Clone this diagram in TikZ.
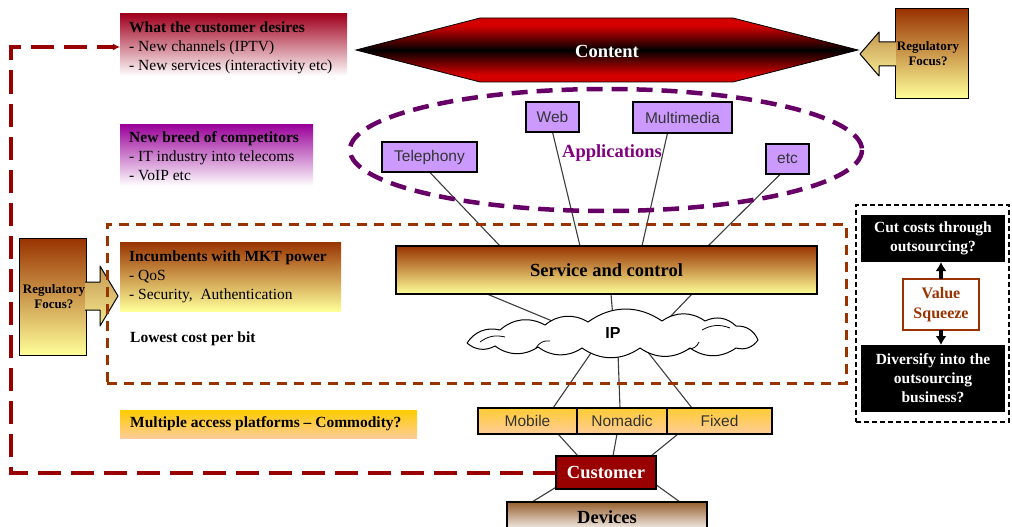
\documentclass[tikz,border=0pt]{standalone}
\usepackage{fontspec}
\setmainfont{Liberation Serif}
\setsansfont{Liberation Sans}
\usetikzlibrary{arrows.meta,calc}
\pgfdeclarelayer{background}
\pgfsetlayers{background,main}

\definecolor{deepred}{RGB}{160,0,30}
\definecolor{plum}{RGB}{153,0,153}
\definecolor{rust}{RGB}{153,51,0}
\definecolor{paleyellow}{RGB}{255,255,153}
\definecolor{signalred}{RGB}{212,0,0}
\definecolor{lavender}{RGB}{204,153,255}
\definecolor{maroon}{RGB}{153,0,0}
\definecolor{umber}{RGB}{150,95,45}
\definecolor{gold}{RGB}{255,204,0}
\definecolor{peach}{RGB}{255,204,153}
\definecolor{amber}{RGB}{255,204,51}
\definecolor{tanA}{RGB}{196,150,80}
\definecolor{tanB}{RGB}{245,235,145}
\definecolor{appviolet}{RGB}{102,0,102}
\definecolor{apptext}{RGB}{128,0,128}
\definecolor{wirecol}{RGB}{60,60,60}

% red-black-red band for the content layer
\pgfdeclareverticalshading{contentband}{100bp}{%
  color(0bp)=(signalred); color(25bp)=(signalred); color(31bp)=(signalred);
  color(50bp)=(black); color(69bp)=(signalred); color(75bp)=(signalred); color(100bp)=(signalred)}

\begin{document}
\begin{tikzpicture}[x=1pt,y=-1pt,
  panel/.style={inner sep=0pt, outer sep=0pt, anchor=north west},
  body/.style={font=\fontsize{15.5}{19}\selectfont},
  strong/.style={font=\bfseries\fontsize{15.5}{19}\selectfont},
  big/.style={font=\bfseries\fontsize{18.5}{20}\selectfont},
  note/.style={body, inner sep=0pt, anchor=north west, align=left},
  fade/.style 2 args={top color=#1, bottom color=#2},
  app/.style={panel, draw=black, line width=1.2pt, fill=lavender, text=black!80,
    font=\sffamily\fontsize{15.5}{18}\selectfont},
  cell/.style={panel, draw=black, line width=1.2pt, fade={amber}{peach}, minimum height=26pt,
    text=black!80, font=\sffamily\fontsize{15.5}{18}\selectfont},
  wire/.style={draw=wirecol, line width=1.1pt},
  regbox/.style={panel, draw=black, line width=1pt, fade={rust}{paleyellow}},
  regtext/.style={font=\bfseries\fontsize{13}{15}\selectfont, align=center},
  blackbox/.style={panel, fill=black, text=white, align=center, strong},
  tip/.style={-{Latex[length=9pt,width=11pt]}, line width=3.5pt},
  puff/.style={bend left=35}
]
\useasboundingbox (0,0) rectangle (1012,527);
\clip (0,0) rectangle (1012,527);

% --- side notes ---
\node[panel, minimum width=227pt, minimum height=62pt, fade={deepred}{white}] (desires) at (120,14) {};
\node[note] (desirestxt) at (129,22) {\textbf{What the customer desires}\\- New channels (IPTV)\\- New services (interactivity etc)};

\node[panel, minimum width=193pt, minimum height=62pt, fade={plum}{white}] (rivals) at (120,124) {};
\node[note] (rivalstxt) at (129,131) {\textbf{New breed of competitors}\\- IT industry into telecoms\\- VoIP etc};

\node[panel, minimum width=221pt, minimum height=69pt, fade={rust}{paleyellow}] (incumb) at (120,242) {};
\node[note] (incumbtxt) at (129,251) {\textbf{Incumbents with MKT power}\\- QoS\\- Security,\ \ Authentication};

\node[strong, anchor=west, inner sep=0pt] (lowcost) at (130,339) {Lowest cost per bit};

\node[panel, minimum width=297pt, minimum height=28pt, fade={gold}{peach}] (access) at (120,410) {};
\node[strong, anchor=west, inner sep=0pt] (accesstxt) at (130,424) {Multiple access platforms – Commodity?};

% --- content layer ---
\path[draw=black, line width=0.8pt, shading=contentband]
  (356,50) -- (480,18) -- (733,18) -- (858,50) -- (733,82) -- (480,82) -- cycle;
\node[big, text=white] (content) at (607,51) {Content};

% --- regulatory focus, right ---
\node[regbox, minimum width=73pt, minimum height=89pt] (regR) at (895,9) {};
\path[fade={tanA}{tanB}] (896,42) -- (879,42) -- (879,32) -- (860,54) -- (879,76) -- (879,66) -- (896,66) -- cycle;
\draw[line width=1pt, line join=round] (896,42) -- (879,42) -- (879,32) -- (860,54) -- (879,76) -- (879,66) -- (896,66);
\node[regtext] (regRtxt) at (928,54) {Regulatory\\Focus?};

% --- regulatory focus, left ---
\node[regbox, minimum width=67pt, minimum height=117pt] (regL) at (19,238) {};
\path[fade={tanA}{tanB}] (85,282) -- (100,282) -- (100,266) -- (118,296) -- (100,326) -- (100,310) -- (85,310) -- cycle;
\draw[line width=1pt, line join=round] (85,282) -- (100,282) -- (100,266) -- (118,296) -- (100,326) -- (100,310) -- (85,310);
\node[regtext] (regLtxt) at (54,297) {Regulatory\\Focus?};

% --- applications ---
\draw[appviolet, line width=4.5pt, dash pattern=on 16pt off 9pt] (606,150) ellipse [x radius=256, y radius=61];
\node[big, text=apptext] (apps) at (612,153) {Applications};
\node[app, minimum width=95pt, minimum height=30pt] (tel) at (382,142) {Telephony};
\node[app, minimum width=53pt, minimum height=30pt] (web) at (526,102) {Web};
\node[app, minimum width=99pt, minimum height=31pt] (mm) at (633,102) {Multimedia};
\node[app, minimum width=43pt, minimum height=30pt] (etc) at (766,144) {etc};

% --- core network ---
\node[panel, draw=rust, line width=3pt, dash pattern=on 10pt off 7pt, minimum width=739pt, minimum height=159pt] (core) at (107,224) {};
\node[panel, big, draw=black, line width=1.4pt, fade={rust}{paleyellow}, minimum width=421pt, minimum height=48pt] (svc) at (396,246) {Service and control};

% IP cloud outline, traced clockwise
\filldraw[fill=white, draw=black, line width=1pt, line join=round]
  (467,343) to[puff] (500,330) to[puff] (545,325) to[puff] (588,322) to[puff] (662,321)
  to[puff] (705,321) to[puff] (736,326) to[puff] (758,340) to[puff] (736,348)
  to[puff] (690,348) to[puff] (640,348) to[puff] (582,348) to[puff] (538,347)
  to[puff] (495,346) to[puff] cycle;
\draw[line width=0.8pt] (480,342) to[bend left=25] (505,337);
\draw[line width=0.8pt] (536,348) to[bend left=35] (550,341);
\draw[line width=0.8pt] (702,330) to[bend left=25] (730,328);
\draw[line width=0.8pt] (688,349) to[bend right=35] (699,342);
\node[font=\sffamily\bfseries\fontsize{16}{18}\selectfont, inner sep=0pt] (ip) at (613,333) {IP};

% --- access and customer ---
\node[cell, minimum width=99pt] (mob) at (478,408) {Mobile};
\node[cell, minimum width=90pt] (nom) at (577,408) {Nomadic};
\node[cell, minimum width=105pt] (fix) at (667,408) {Fixed};
\node[panel, big, draw=black, line width=1.4pt, fill=maroon, text=white, minimum width=100pt, minimum height=33pt] (cust) at (556,456) {Customer};
\node[panel, big, draw=black, line width=1.4pt, fade={umber}{white}, minimum width=200pt, minimum height=30pt] (dev) at (507,502) {Devices};

% --- value squeeze panel ---
\node[panel, draw=black, line width=1.6pt, dash pattern=on 5pt off 3pt, minimum width=153pt, minimum height=217pt] (squeeze) at (856,205) {};
\node[blackbox, minimum width=144pt, minimum height=47pt] (cut) at (861,215) {Cut costs through\\outsourcing?};
\node[panel, fill=white, draw=rust, line width=1.6pt, text=rust, align=center, minimum width=76pt, minimum height=51pt,
  font=\bfseries\fontsize{16}{20}\selectfont] (value) at (903,279) {Value\\Squeeze};
\node[blackbox, minimum width=144pt, minimum height=67pt] (divers) at (861,345) {Diversify into the\\outsourcing\\business?};
\draw[tip] (value.north) -- (value.north |- cut.south);
\draw[tip] (value.south) -- (value.south |- divers.north);

% --- links ---
\begin{pgfonlayer}{background}
\draw[wire] (tel.south) -- ($(svc.north west)+(104,0)$);
\draw[wire] (web.south) -- ($(svc.north west)+(184,0)$);
\draw[wire] ($(mm.south)+(-15,0)$) -- ($(svc.north west)+(246,0)$);
\draw[wire] ($(etc.south)+(-7,0)$) -- ($(svc.north west)+(312,0)$);
\draw[wire] ($(svc.south west)+(91,0)$) -- ($(ip.center)+(-56,-10)$);
\draw[wire] ($(svc.south west)+(215,0)$) -- ($(ip.center)+(0,-15)$);
\draw[wire] ($(svc.south west)+(296,0)$) -- ($(ip.center)+(55,-14)$);
\draw[wire] ($(ip.center)+(-22,20)$) -- ($(mob.north west)+(75,0)$);
\draw[wire] ($(ip.center)+(5,20)$) -- ($(nom.north west)+(43,0)$);
\draw[wire] ($(ip.center)+(34,18)$) -- ($(fix.north west)+(25,0)$);
\draw[wire] ($(mob.south west)+(80,0)$) -- ($(cust.north west)+(22,0)$);
\draw[wire] ($(nom.south west)+(40,0)$) -- ($(cust.north west)+(57,0)$);
\draw[wire] ($(fix.south west)+(11,0)$) -- ($(cust.north west)+(95,0)$);
\draw[wire] ($(cust.south west)+(2,-3)$) -- ($(dev.north west)+(25,0)$);
\draw[wire] ($(cust.south east)+(-1,-5)$) -- ($(dev.north west)+(173,0)$);
\end{pgfonlayer}

% --- customer feedback loop ---
\coordinate (loopTop) at (11,47);
\draw[maroon, line width=4pt, dash pattern=on 23pt off 10pt, -{Latex[length=7pt,width=7pt]}]
  (cust.west) -- (cust.west -| loopTop) -- (loopTop) -- (loopTop -| desires.west);
\end{tikzpicture}
\end{document}
